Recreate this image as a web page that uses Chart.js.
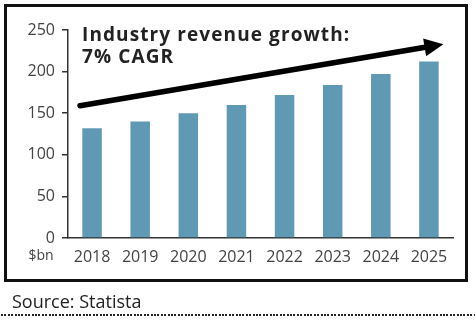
<!DOCTYPE html>
<html>
<head>
<meta charset="utf-8">
<script src="https://cdn.jsdelivr.net/npm/chart.js@4"></script>
<style>
  body { margin: 0; background: #fff; width: 475px; height: 324px; position: relative; overflow: hidden; }
  #wrap { position: absolute; left: 0; top: 0; width: 475px; height: 290px; }
  #frame { position: absolute; left: 4px; top: 4px; width: 464px; height: 278px; box-sizing: border-box; border: 3px solid #111; pointer-events: none; }
  #source { position: absolute; left: 12px; top: 292px; font: 18px "Open Sans", sans-serif; line-height: 18px; color: #222; }
  #dots { position: absolute; left: 1px; top: 314px; width: 474px; height: 2px;
          background: repeating-linear-gradient(to right, #222 0 2px, transparent 2px 3.4px); }
</style>
</head>
<body>
<div id="wrap"><canvas id="chart"></canvas></div>
<div id="frame"></div>
<div id="source">Source: Statista</div>
<div id="dots"></div>
<script>
const years = ['2018', '2019', '2020', '2021', '2022', '2023', '2024', '2025'];
const revenue = [132, 140, 150, 160, 172, 184, 197, 212];
const yTicks = [0, 50, 100, 150, 200, 250];
const titleLines = ['Industry revenue growth:', '7% CAGR'];
const unitLabel = '$bn';
// arrow ends in data units (category index, value)
const arrowFrom = [-0.25, 159];
const arrowTo = [7.3, 233];

const extras = {
    id: 'extras',
    afterDatasetsDraw(chart) {
        const { ctx, scales: { x, y } } = chart;
        const x1 = x.getPixelForValue(arrowFrom[0]);
        const y1 = y.getPixelForValue(arrowFrom[1]);
        const x2 = x.getPixelForValue(arrowTo[0]);
        const y2 = y.getPixelForValue(arrowTo[1]);
        const ang = Math.atan2(y2 - y1, x2 - x1);
        const headLen = 19, headW = 9;
        const bx = x2 - headLen * Math.cos(ang);
        const by = y2 - headLen * Math.sin(ang);
        ctx.save();
        ctx.strokeStyle = '#000';
        ctx.fillStyle = '#000';
        ctx.lineWidth = 5.5;
        ctx.lineCap = 'round';
        ctx.beginPath();
        ctx.moveTo(x1, y1);
        ctx.lineTo(bx + 2 * Math.cos(ang), by + 2 * Math.sin(ang));
        ctx.stroke();
        ctx.beginPath();
        ctx.moveTo(x2, y2);
        ctx.lineTo(bx + headW * Math.sin(ang), by - headW * Math.cos(ang));
        ctx.lineTo(bx - headW * Math.sin(ang), by + headW * Math.cos(ang));
        ctx.closePath();
        ctx.fill();

        ctx.fillStyle = '#222';
        ctx.font = 'bold 19px "Open Sans"';
        ctx.letterSpacing = '1.1px';
        ctx.textBaseline = 'alphabetic';
        ctx.textAlign = 'left';
        ctx.fillText(titleLines[0], 82, 41);
        ctx.fillText(titleLines[1], 82, 63);
        ctx.letterSpacing = '0px';

        ctx.fillStyle = '#444';
        ctx.font = '14px "Open Sans"';
        ctx.textAlign = 'center';
        ctx.textBaseline = 'alphabetic';
        ctx.fillText(unitLabel, 41, 260);
        ctx.restore();
    }
};

new Chart(document.getElementById('chart'), {
    type: 'bar',
    data: {
        labels: years,
        datasets: [{
            data: revenue,
            backgroundColor: '#5f99b4',
            borderWidth: 0,
            categoryPercentage: 1,
            barPercentage: 0.405
        }]
    },
    options: {
        responsive: true,
        maintainAspectRatio: false,
        animation: false,
        events: [],
        layout: { padding: { top: 30, right: 22, left: 0, bottom: 0 } },
        plugins: { legend: { display: false }, tooltip: { enabled: false } },
        scales: {
            x: {
                grid: { display: false },
                border: { display: true, color: '#333', width: 1.5 },
                ticks: { color: '#444', font: { family: 'Open Sans', size: 16 }, padding: 2, maxRotation: 0 },
                afterFit(axis) { axis.height = 52; }
            },
            y: {
                min: 0,
                max: 250,
                afterBuildTicks(axis) { axis.ticks = yTicks.map(v => ({ value: v })); },
                grid: { display: true, drawOnChartArea: false, drawTicks: true, tickLength: 6, color: '#333', lineWidth: 1.5 },
                border: { display: true, color: '#333', width: 1.5 },
                ticks: { color: '#444', font: { family: 'Open Sans', size: 16 }, padding: 7 },
                afterFit(axis) { axis.width = 68; }
            }
        }
    },
    plugins: [extras]
});
</script>
</body>
</html>
